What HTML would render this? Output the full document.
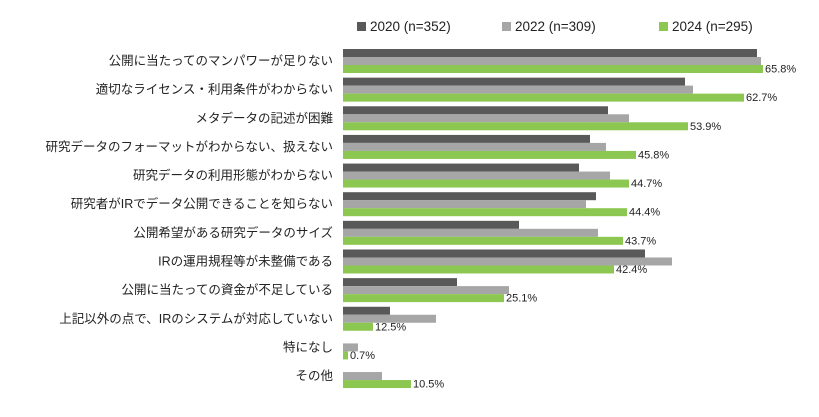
<!DOCTYPE html>
<html><head><meta charset="utf-8"><style>
body{margin:0;background:#fff;width:819px;height:412px;overflow:hidden;font-family:"Liberation Sans","Noto Sans CJK JP",sans-serif;}
</style></head><body>
<svg width="819" height="412" xmlns="http://www.w3.org/2000/svg" font-family="Liberation Sans, Noto Sans CJK JP, sans-serif">
<g font-size="13.5" fill="#222">
<rect x="357" y="22" width="9" height="9" fill="#595959"/><text x="370" y="31">2020 (n=352)</text>
<rect x="502" y="22" width="9" height="9" fill="#a6a6a6"/><text x="515" y="31">2022 (n=309)</text>
<rect x="659" y="22" width="9" height="9" fill="#8cc751"/><text x="672" y="31">2024 (n=295)</text>
</g>
<g id="bars"></g>
</svg>
<script>
var rows=[
["公開に当たってのマンパワーが足りない",757,761,763,"65.8%"],
["適切なライセンス・利用条件がわからない",685,693,744,"62.7%"],
["メタデータの記述が困難",608,629,688,"53.9%"],
["研究データのフォーマットがわからない、扱えない",590,606,636,"45.8%"],
["研究データの利用形態がわからない",579,610,629,"44.7%"],
["研究者がIRでデータ公開できることを知らない",596,586,627,"44.4%"],
["公開希望がある研究データのサイズ",519,598,623,"43.7%"],
["IRの運用規程等が未整備である",645,672,614,"42.4%"],
["公開に当たっての資金が不足している",457,509,504,"25.1%"],
["上記以外の点で、IRのシステムが対応していない",390,436,373,"12.5%"],
["特になし",343,358,348,"0.7%"],
["その他",343,382,411,"10.5%"]];
var g=document.getElementById('bars'),s='';
rows.forEach(function(r,i){var y=49+i*28.64;
var c=['#595959','#a6a6a6','#8cc751'];
for(var k=0;k<3;k++){var w=r[k+1]-343;if(w>0)s+='<rect x="343" y="'+(y+k*8)+'" width="'+w+'" height="8" fill="'+c[k]+'"/>';}
s+='<text x="333" y="'+(y+16)+'" font-size="12.5" text-anchor="end" fill="#222">'+r[0]+'</text>';
s+='<text x="'+(r[3]+2)+'" y="'+(y+23.5)+'" font-size="11" fill="#222">'+r[4]+'</text>';
});
g.innerHTML=s;
</script>
</body></html>
